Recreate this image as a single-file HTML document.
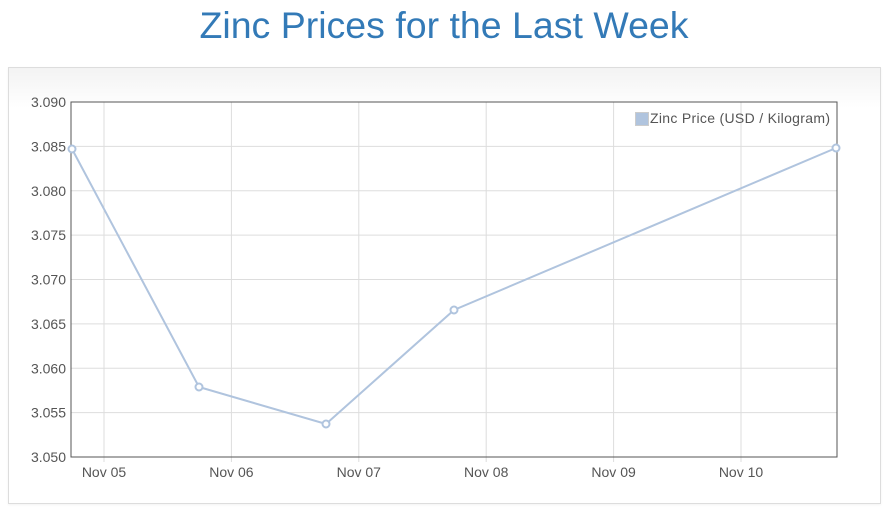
<!DOCTYPE html>
<html><head><style>
body{margin:0;background:#fff;width:888px;height:514px;overflow:hidden;font-family:"Liberation Sans",sans-serif}
h1{position:absolute;top:4px;left:0;width:888px;text-align:center;margin:0;font-weight:normal;font-size:37.5px;color:#337ab7}
.panel{position:absolute;left:8px;top:67px;width:871px;height:435px;border:1px solid #ddd;background:linear-gradient(#f3f3f3,#fff 40px);box-shadow:0 1px 2px rgba(0,0,0,.05)}
</style></head><body>
<h1>Zinc Prices for the Last Week</h1>
<div class="panel"></div>
<svg width="888" height="514" style="position:absolute;left:0;top:0">
<rect x="71" y="102" width="766" height="355" fill="#fff"/>
<g stroke="#ddd" stroke-width="1">
<line x1="71" x2="837" y1="146.4" y2="146.4"/><line x1="71" x2="837" y1="190.75" y2="190.75"/>
<line x1="71" x2="837" y1="235.1" y2="235.1"/><line x1="71" x2="837" y1="279.5" y2="279.5"/>
<line x1="71" x2="837" y1="323.9" y2="323.9"/><line x1="71" x2="837" y1="368.25" y2="368.25"/>
<line x1="71" x2="837" y1="412.6" y2="412.6"/>
<line x1="104" x2="104" y1="102" y2="462"/><line x1="231.4" x2="231.4" y1="102" y2="462"/>
<line x1="358.8" x2="358.8" y1="102" y2="462"/><line x1="486.2" x2="486.2" y1="102" y2="462"/>
<line x1="613.6" x2="613.6" y1="102" y2="462"/><line x1="741" x2="741" y1="102" y2="462"/>
</g>
<rect x="71" y="102" width="766" height="355" fill="none" stroke="#555" stroke-width="1"/>
<g font-size="14" fill="#555" text-anchor="end">
<text x="66" y="107">3.090</text><text x="66" y="151.4">3.085</text><text x="66" y="195.75">3.080</text>
<text x="66" y="240.1">3.075</text><text x="66" y="284.5">3.070</text><text x="66" y="328.9">3.065</text>
<text x="66" y="373.25">3.060</text><text x="66" y="417.6">3.055</text><text x="66" y="462">3.050</text>
</g>
<g font-size="14" fill="#555" text-anchor="middle">
<text x="104" y="477">Nov 05</text><text x="231.4" y="477">Nov 06</text><text x="358.8" y="477">Nov 07</text>
<text x="486.2" y="477">Nov 08</text><text x="613.6" y="477">Nov 09</text><text x="741" y="477">Nov 10</text>
</g>
<polyline points="72,149 199,387 326,424 454,310 836,148" fill="none" stroke="#b0c4de" stroke-width="2"/>
<g fill="#fff" stroke="#b0c4de" stroke-width="2">
<circle cx="72" cy="149" r="3.5"/><circle cx="199" cy="387" r="3.5"/><circle cx="326" cy="424" r="3.5"/>
<circle cx="454" cy="310" r="3.5"/><circle cx="836" cy="148" r="3.5"/>
</g>
<rect x="635.5" y="112.5" width="13" height="13" fill="#b0c4de" stroke="#ccc"/>
<text x="650" y="123" font-size="14" fill="#555" textLength="180">Zinc Price (USD / Kilogram)</text>
</svg>
</body></html>
